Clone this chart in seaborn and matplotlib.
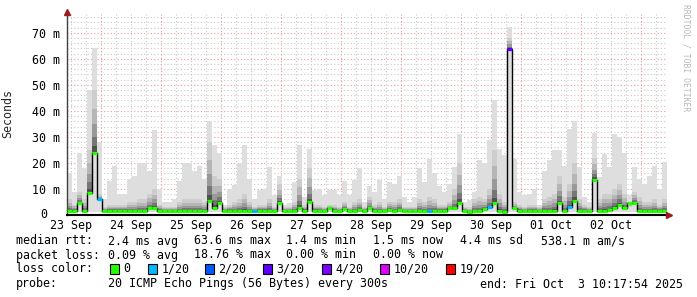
import numpy as np
import matplotlib
matplotlib.use("Agg")
import matplotlib.pyplot as plt
from matplotlib.patches import Rectangle
import seaborn as sns

# ---------------- data ----------------
# 2-hour bins over a 10-day window starting Tue 23 Sep 10:17:54
bin_hours = np.arange(0, 240, 2)

median_ms = [
    1.6, 1.6, 4.7, 1.6, 8.4, 24.0, 6.0, 1.5, 1.5, 1.5, 1.5, 1.5, 1.5, 1.6, 1.6, 1.5, 2.5, 2.8, 1.6, 1.5,
    1.5, 1.5, 1.5, 1.5, 1.5, 1.5, 1.5, 1.6, 5.4, 2.5, 4.5, 1.5, 1.5, 1.5, 1.5, 1.6, 1.6, 1.5, 1.5, 1.5,
    1.5, 1.5, 4.5, 1.5, 1.5, 1.5, 2.6, 1.5, 5.0, 1.5, 1.5, 1.5, 2.5, 1.5, 1.5, 2.2, 1.5, 1.5, 2.0, 1.5,
    2.5, 1.5, 1.5, 1.5, 2.0, 1.5, 2.0, 1.5, 1.5, 1.5, 1.5, 1.5, 1.5, 1.5, 1.5, 1.5, 2.5, 2.5, 4.5, 1.5,
    1.3, 1.5, 1.5, 2.2, 2.9, 4.6, 1.5, 1.3, 63.6, 2.5, 1.5, 1.5, 1.5, 1.5, 1.5, 1.5, 1.5, 1.5, 4.5, 1.5,
    3.0, 5.5, 1.5, 1.5, 1.5, 13.6, 1.5, 1.5, 1.8, 2.8, 4.0, 2.5, 4.5, 4.5, 1.5, 1.5, 1.5, 1.5, 1.5, 1.5,
]

smoke_max_ms = [
    16, 9, 24, 18, 48, 64, 28, 6, 13, 19, 8, 8, 14, 15, 20, 20, 17, 32.5, 10, 5,
    5, 6, 13, 20, 20, 17, 19, 14, 36, 27, 24, 4, 10, 11.5, 20, 27, 14, 6, 9.5, 10,
    18.5, 7.6, 15, 4, 4.5, 12.7, 27, 7, 25.5, 9.6, 10, 7.6, 9.5, 9.5, 7.6, 13, 7.6, 13.4, 18, 5,
    11, 9, 13.4, 6, 12.7, 12, 15, 7, 5, 7, 18, 12.5, 21.7, 16, 11, 9, 12, 18.5, 31, 5,
    5.7, 9, 21, 20, 29, 44, 25.5, 23, 72.3, 21.7, 9, 7.6, 8, 10, 4, 17, 21, 25, 25, 19,
    33, 36, 18.5, 7, 5, 31.6, 14.7, 23.6, 18.5, 31, 30, 24, 7.6, 18.5, 14, 12, 15, 19, 10, 20.4,
]

smoke_hi_ms = [
    6, 4, 9, 6, 25, 48, 8, 3, 4, 4, 4, 4, 5, 5, 6, 6, 8, 10, 4, 3,
    3, 3, 5, 6, 6, 6, 6, 5, 28, 15, 14, 3, 4, 5, 6, 8, 5, 3, 4, 4,
    6, 3, 12, 3, 3, 5, 14, 4, 18, 4, 4, 3, 4, 4, 3, 5, 3, 5, 6, 3,
    7, 4, 5, 3, 5, 5, 6, 3, 3, 3, 6, 5, 7, 6, 4, 4, 5, 10, 20, 3,
    3, 6, 7, 6, 10, 25, 8, 5, 68, 5, 4, 3, 4, 4, 3, 6, 7, 8, 15, 7,
    12, 20, 6, 4, 3, 22, 6, 8, 8, 10, 12, 8, 3, 9, 7, 5, 5, 6, 4, 6,
]

loss_count = [0] * 120          # pings lost out of 20 per bin
for b, c in [(6, 1), (37, 1), (72, 1), (84, 1), (88, 3), (100, 1)]:
    loss_count[b] = c

smoke_floor_ms = 1.2

day_labels = ["23 Sep", "24 Sep", "25 Sep", "26 Sep", "27 Sep",
              "28 Sep", "29 Sep", "30 Sep", "01 Oct", "02 Oct"]
y_tick_values = [0, 10, 20, 30, 40, 50, 60, 70]
y_tick_labels = ["0", "10 m", "20 m", "30 m", "40 m", "50 m", "60 m", "70 m"]

loss_thresholds = [0, 1, 2, 3, 4, 10, 19]
loss_labels = ["0", "1/20", "2/20", "3/20", "4/20", "10/20", "19/20"]
loss_colors = ["#26ff00", "#00b8ff", "#0059ff", "#5e00ff", "#7e00ff", "#dd00ff", "#ff0000"]

rtt_stats = ["2.4 ms avg", "63.6 ms max", "1.4 ms min", "1.5 ms now", "4.4 ms sd", "538.1 m am/s"]
loss_stats = ["0.09 % avg", "18.76 % max", "0.00 % min", "0.00 % now"]
probe_text = "20 ICMP Echo Pings (56 Bytes) every 300s"
end_text = "end: Fri Oct  3 10:17:54 2025"

# ---------------- figure ----------------
sns.set_theme(style="white")
plt.rcParams["font.family"] = ["DejaVu Sans Mono", "DejaVu Sans"]

W, H = 697, 297
FS = 8.4
fig = plt.figure(figsize=(W / 100, H / 100), dpi=100)
fig.patch.set_facecolor("white")
ax = fig.add_axes([67 / W, 1 - 215 / H, 600 / W, 203 / H])
ax.set_facecolor("white")
ax.set_xlim(0, 240)
ax.set_ylim(0, 78)

# grid
first_noon = 12 - (10 + 17 / 60 + 54 / 3600)
minor_v = [first_noon + 6 * k for k in range(40) if 0 < first_noon + 6 * k < 240]
major_v = [first_noon + 12 + 24 * k for k in range(10)]
for xv in minor_v:
    if min(abs(xv - m) for m in major_v) > 0.1:
        ax.axvline(xv, color="#c8c8c8", lw=0.8, ls=(0, (1, 2)), zorder=0)
for yv in range(2, 78, 2):
    if yv % 10:
        ax.axhline(yv, color="#c8c8c8", lw=0.8, ls=(0, (1, 2)), zorder=0)
for xv in major_v:
    ax.axvline(xv, color="#eb9a9a", lw=0.8, ls=(0, (1, 2)), zorder=0.5)
for yv in y_tick_values[1:]:
    ax.axhline(yv, color="#eb9a9a", lw=0.8, ls=(0, (1, 2)), zorder=0.5)

# smoke
edges = np.append(bin_hours, 240)
med = np.array(median_ms)
smax = np.array(smoke_max_ms)
shi = np.array(smoke_hi_ms)
ax.stairs(smax, edges, baseline=np.full(len(med), smoke_floor_ms), fill=True,
          color="#dedede", zorder=1)
for f, c in zip([1.0, 0.7, 0.45, 0.25, 0.1],
                ["#cdcdcd", "#b6b6b6", "#999999", "#767676", "#505050"]):
    ax.stairs(med + f * (shi - med), edges, baseline=med, fill=True, color=c, zorder=2)

# median line: black step + loss coloured segments
sns.lineplot(x=edges, y=np.append(med, med[-1]), drawstyle="steps-post",
             color="black", lw=1.0, ax=ax, zorder=3)


def loss_color(c):
    col = loss_colors[0]
    for t, cc in zip(loss_thresholds, loss_colors):
        if c >= t:
            col = cc
    return col


ax.hlines(med, bin_hours, bin_hours + 2, colors=[loss_color(c) for c in loss_count],
          lw=2.3, zorder=4)

# axes
for s in ["top", "right"]:
    ax.spines[s].set_visible(False)
ax.spines["left"].set_color("#404040")
ax.spines["left"].set_linewidth(1.0)
ax.spines["bottom"].set_color("black")
ax.spines["bottom"].set_linewidth(1.5)
ax.spines["bottom"].set_zorder(5)
ax.plot([0], [1.0], transform=ax.transAxes, marker="^", ms=4.5, color="#9b1c1c",
        clip_on=False, zorder=6)
ax.plot([1.004], [0], transform=ax.transAxes, marker=">", ms=4.5, color="#9b1c1c",
        clip_on=False, zorder=6)

ax.set_yticks(y_tick_values[1:])
ax.set_yticklabels(y_tick_labels[1:])
ax.set_xticks([first_noon + 24 * k for k in range(10)])
ax.set_xticklabels(day_labels)
ax.tick_params(axis="both", length=0, labelsize=FS, colors="black")
ax.tick_params(axis="y", pad=5)
ax.tick_params(axis="x", pad=3)
ax.set_xlabel("")
ax.set_ylabel("Seconds", fontsize=FS)
ax.yaxis.set_label_coords(-53 / 600, 0.5)

# the "0" label sits aligned with the digits of the other labels
fig.text(47 / W, 1 - 214 / H, y_tick_labels[0], fontsize=FS, ha="right", va="center",
         color="black")

fig.text(686 / W, 1 - 4 / H, "RRDTOOL / TOBI OETIKER", rotation=270, fontsize=5.8,
         color="#b8b8b8", ha="center", va="top")


def ftext(x, y, s):
    fig.text(x / W, 1 - y / H, s, fontsize=FS, ha="left", va="center", color="black")


ftext(16, 241, "median rtt:")
for x, s in zip([108, 194, 286, 373, 460, 541], rtt_stats):
    ftext(x, 241, s)
ftext(16, 255, "packet loss:")
for x, s in zip([108, 194, 286, 373], loss_stats):
    ftext(x, 255, s)
ftext(16, 269, "loss color:")
for bx, lab, col in zip([109.5, 147.5, 204.5, 262.5, 321.5, 380, 445.5], loss_labels, loss_colors):
    fig.patches.append(Rectangle((bx / W, 1 - 274 / H), 9 / W, 10 / H, transform=fig.transFigure,
                                 facecolor=col, edgecolor="black", lw=0.8))
    ftext(bx + 14, 269, lab)
ftext(16, 284, "probe:")
ftext(108, 284, probe_text)
ftext(480, 284, end_text)

fig.savefig("out.png", dpi=100, facecolor="white")
